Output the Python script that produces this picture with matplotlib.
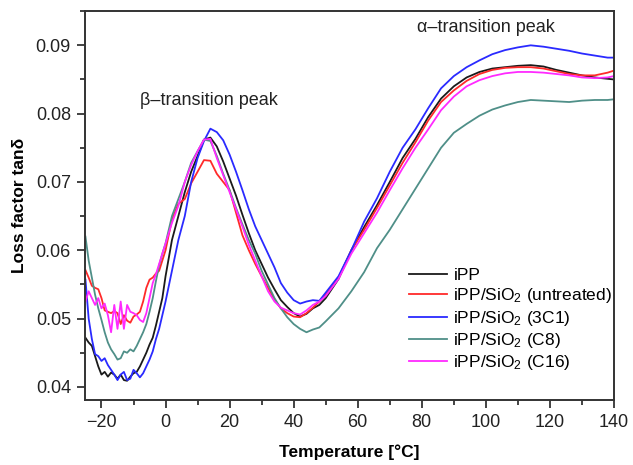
import matplotlib
matplotlib.use("Agg")
import matplotlib.pyplot as plt
from matplotlib.ticker import MultipleLocator

plt.rcParams['font.family'] = ['Liberation Sans', 'DejaVu Sans']
plt.rcParams['mathtext.fontset'] = 'custom'
plt.rcParams['mathtext.rm'] = 'Liberation Sans'
plt.rcParams['mathtext.it'] = 'Liberation Sans'

temp = [-25, -24, -23, -22, -21, -20, -19, -18, -17, -16, -15, -14, -13, -12, -11, -10, -9, -8, -7, -6, -5, -4, -3, -2, -1,
        0, 2, 4, 6, 8, 10, 12, 14, 16, 18, 20, 22, 24, 26, 28, 30, 32, 34, 36, 38, 40, 42, 44, 46, 48, 50,
        54, 58, 62, 66, 70, 74, 78, 82, 86, 90, 94, 98, 102, 106, 110, 114, 118, 122, 126, 130, 134, 138, 140]

ipp = [.0472, .0465, .0460, .0445, .0430, .0418, .0422, .0415, .0421, .0418, .0412, .0418, .0410, .0409, .0415, .0420, .0422, .0430, .0440, .0450, .0462, .0472, .0490, .0510, .0530,
       .0562, .0615, .0650, .0685, .0715, .0738, .0762, .0765, .0752, .0730, .0705, .0680, .0652, .0625, .0600, .0580, .0560, .0543, .0527, .0517, .0508, .0503, .0507, .0515, .0520, .0530,
       .0558, .0600, .0634, .0666, .0700, .0735, .0763, .0795, .0822, .0840, .0853, .0861, .0866, .0868, .0870, .0871, .0869, .0864, .0860, .0856, .0853, .0851, .0850]

untreated = [.0571, .0560, .0548, .0545, .0543, .0530, .0512, .0510, .0508, .0511, .0508, .0492, .0505, .0497, .0494, .0503, .0506, .0510, .0525, .0545, .0557, .0560, .0566, .0570, .0585,
             .0600, .0645, .0668, .0675, .0698, .0715, .0732, .0731, .0712, .0700, .0688, .0655, .0622, .0600, .0580, .0562, .0545, .0528, .0515, .0508, .0503, .0502, .0508, .0516, .0525, .0535,
             .0560, .0600, .0630, .0662, .0695, .0728, .0758, .0790, .0817, .0834, .0848, .0858, .0864, .0867, .0868, .0868, .0866, .0862, .0858, .0856, .0856, .0860, .0863]

c3c1 = [.0557, .0500, .0470, .0448, .0445, .0438, .0442, .0432, .0425, .0418, .0410, .0418, .0422, .0410, .0412, .0425, .0420, .0414, .0420, .0430, .0440, .0452, .0470, .0485, .0505,
        .0525, .0570, .0615, .0650, .0700, .0735, .0760, .0778, .0773, .0761, .0740, .0715, .0688, .0660, .0635, .0615, .0595, .0575, .0552, .0538, .0527, .0522, .0525, .0527, .0526, .0538,
        .0562, .0600, .0642, .0676, .0715, .0750, .0777, .0808, .0837, .0855, .0868, .0878, .0887, .0893, .0897, .0900, .0898, .0895, .0892, .0888, .0885, .0882, .0882]

c8 = [.0620, .0585, .0560, .0535, .0515, .0498, .0480, .0465, .0455, .0448, .0440, .0442, .0452, .0450, .0455, .0452, .0460, .0470, .0480, .0492, .0510, .0530, .0555, .0578, .0595,
      .0610, .0650, .0675, .0700, .0728, .0745, .0762, .0760, .0738, .0712, .0688, .0662, .0638, .0615, .0595, .0570, .0550, .0530, .0515, .0502, .0492, .0485, .0480, .0484, .0487, .0496,
      .0515, .0540, .0568, .0603, .0630, .0660, .0690, .0720, .0750, .0772, .0785, .0797, .0806, .0812, .0817, .0820, .0819, .0818, .0817, .0819, .0820, .0820, .0821]

c16 = [.0525, .0540, .0530, .0520, .0530, .0515, .0522, .0505, .0480, .0520, .0485, .0525, .0485, .0520, .0510, .0508, .0505, .0498, .0495, .0508, .0530, .0552, .0565, .0580, .0595,
       .0610, .0640, .0665, .0700, .0725, .0745, .0762, .0763, .0735, .0710, .0685, .0660, .0635, .0608, .0585, .0562, .0540, .0525, .0516, .0512, .0508, .0506, .0512, .0520, .0525, .0533,
       .0558, .0595, .0625, .0655, .0688, .0720, .0750, .0777, .0805, .0825, .0840, .0849, .0855, .0859, .0861, .0861, .0860, .0858, .0856, .0853, .0852, .0853, .0855]

labels = ['iPP', 'iPP/SiO$_2$ (untreated)', 'iPP/SiO$_2$ (3C1)', 'iPP/SiO$_2$ (C8)', 'iPP/SiO$_2$ (C16)']
series = [ipp, untreated, c3c1, c8, c16]
colors = ['#1a1a1a', '#ff2a2a', '#2a2aff', '#4f8f88', '#ff2aff']

fig = plt.figure(figsize=(6.33, 4.65), dpi=100)
ax = fig.add_axes([0.134, 0.140, 0.836, 0.836])

for vals, lab, col in zip(series, labels, colors):
    ax.plot(temp, vals, color=col, lw=1.3, label=lab)

ax.set_xlim(-25.2, 140)
ax.set_ylim(0.0381, 0.095)
ax.xaxis.set_major_locator(MultipleLocator(20))
ax.xaxis.set_minor_locator(MultipleLocator(10))
ax.yaxis.set_major_locator(MultipleLocator(0.01))
ax.yaxis.set_minor_locator(MultipleLocator(0.005))
ax.yaxis.set_major_formatter(matplotlib.ticker.FormatStrFormatter('%.2f'))
ax.tick_params(which='major', direction='out', length=6, width=1.2, labelsize=13, colors='#222222', pad=4)
ax.tick_params(which='minor', direction='out', length=3.5, width=1.2, colors='#222222')
for s in ax.spines.values():
    s.set_linewidth(1.4)
    s.set_color('#333333')

ax.set_xlabel('Temperature [°C]', fontsize=12.5, fontweight='bold', labelpad=10)
ax.set_ylabel('Loss factor tanδ', fontsize=12.5, fontweight='bold', labelpad=6)

ax.text(-8, 0.0819, 'β–transition peak', fontsize=13, ha='left', va='center', color='#222222')
ax.text(78.5, 0.0926, 'α–transition peak', fontsize=13, ha='left', va='center', color='#222222')

ax.legend(loc='upper left', bbox_to_anchor=(0.59, 0.37), frameon=False, fontsize=12.5,
          handlelength=2.2, handletextpad=0.35, labelspacing=0.18, borderpad=0.2)

fig.savefig('out.png', dpi=100)
